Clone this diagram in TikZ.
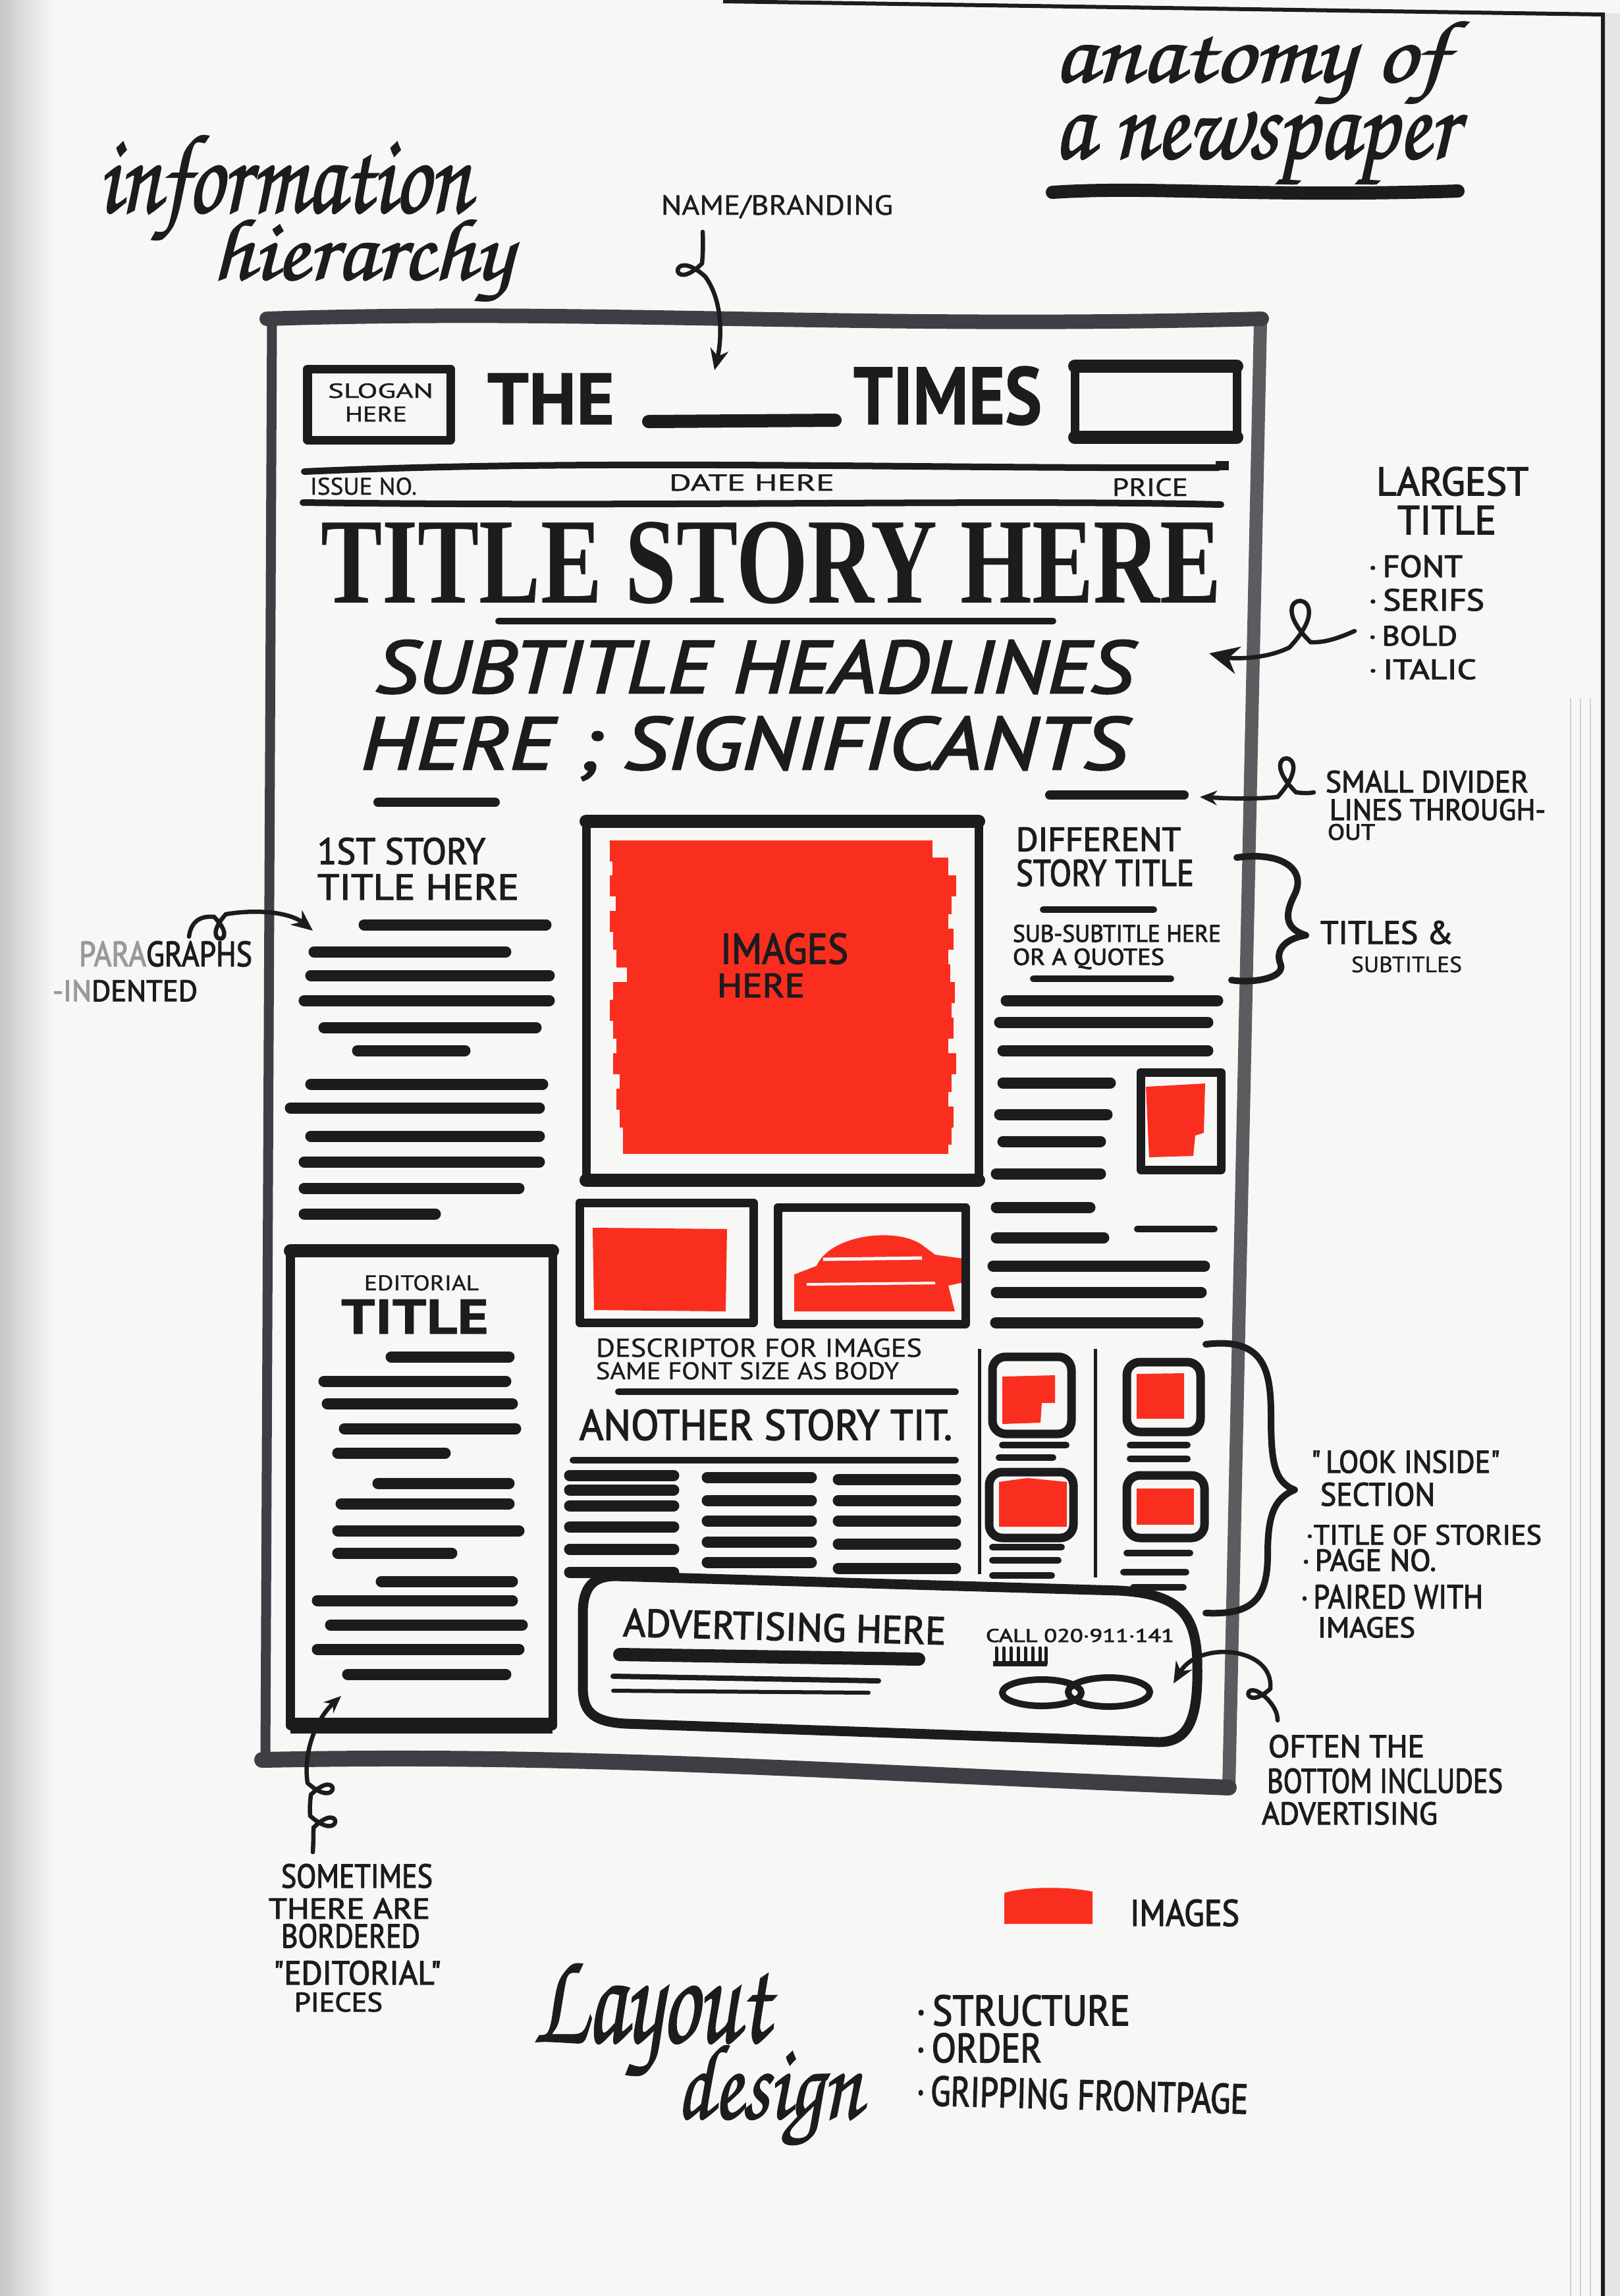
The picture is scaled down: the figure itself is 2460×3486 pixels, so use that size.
\documentclass[tikz,border=0pt]{standalone}
\usepackage{fontspec}
\usetikzlibrary{arrows.meta}
\newfontfamily\hand[FakeBold=2.5]{PT Sans}
\newfontfamily\handthin[FakeBold=1]{PT Sans}
\newfontfamily\titlefont{Liberation Serif}
\newfontfamily\chorus[FakeBold=1.5]{TeX Gyre Chorus}
\definecolor{ink}{RGB}{28,27,30}
\definecolor{framegray}{RGB}{62,63,68}
\definecolor{marker}{RGB}{250,46,30}
\definecolor{paper}{RGB}{247,247,246}
\newlength\pxu \setlength\pxu{0.01cm}
\newcommand\fitt[3]{\resizebox{#1\pxu}{#2\pxu}{#3}}
\newcommand\nodepth[1]{\raisebox{0pt}[\height][0pt]{#1}}
\begin{document}
\begin{tikzpicture}[x=0.01cm,y=-0.01cm,
  lbl/.style={inner sep=0pt, outer sep=0pt, anchor=base west, text=ink, font=\hand},
  barst/.style={draw=ink, line width=0.17cm, line cap=round},
  thinbar/.style={draw=ink, line width=0.1cm, line cap=round},
  boxst/.style={draw=ink, line width=0.13cm, line join=round},
  heavy/.style={draw=ink, line width=0.2cm, line cap=round},
  curly/.style={draw=ink, line width=0.065cm, line cap=round},
  bracest/.style={draw=ink, line width=0.1cm, line cap=round, line join=round},
  redstroke/.style={draw=marker, line width=0.32cm},
  tipbig/.style={-{Stealth[length=0.45cm,width=0.42cm]}},
  tipmid/.style={-{Stealth[length=0.32cm,width=0.28cm]}},
  tipsmall/.style={-{Stealth[length=0.26cm,width=0.22cm]}}]
\useasboundingbox (0,0) rectangle (2460,3486);
% ---------- paper ----------
\fill[paper] (0,0) rectangle (2460,3486);
\shade[left color=black!22, right color=paper] (0,0) rectangle (80,3486);
\fill[black!10] (2436,20) rectangle (2460,3486);
\foreach \xx in {2385,2400,2415}{\draw[black!18, line width=0.02cm] (\xx,1060) -- (\xx,3486);}
\draw[ink, line width=0.06cm] (1098,2) -- (2434,22) -- (2434,3486);

% ---------- script titles ----------
\node[lbl] (info) at (149,322) {\chorus\nodepth{\fitt{565}{116}{information}}};
\node[lbl] (hier) at (322,424) {\chorus\nodepth{\fitt{455}{90}{hierarchy}}};
\node[lbl] (anat) at (1600,124) {\chorus\nodepth{\fitt{597}{91}{anatomy of}}};
\node[lbl] (news) at (1600,240) {\chorus\nodepth{\fitt{612}{70}{a newspaper}}};
\draw[draw=ink, line width=0.2cm, line cap=round] (1598,292) .. controls (1750,282) and (1900,300) .. (2214,290);
\node[lbl] (lay) at (810,3100) {\chorus\nodepth{\fitt{358}{118}{Layout}}};
\node[lbl] (des) at (1027,3216) {\chorus\nodepth{\fitt{281}{110}{design}}};

% ---------- newspaper frame ----------
\draw[draw=framegray, line width=0.15cm] (413,486) -- (403,2672);
\draw[draw=framegray!85, line width=0.2cm] (1914,488) -- (1866,2716);
\draw[draw=framegray, line width=0.22cm, line cap=round] (405,484) .. controls (900,468) and (1300,500) .. (1916,484);
\draw[draw=framegray, line width=0.24cm, line cap=round] (398,2672) .. controls (900,2662) and (1250,2690) .. (1866,2714);

% ---------- masthead ----------
\draw[boxst] (467,560) rectangle (684,668);
\node[lbl, font=\handthin] (slogan1) at (498,604) {\fitt{160}{22}{SLOGAN}};
\node[lbl, font=\handthin] (slogan2) at (524,640) {\fitt{94}{23}{HERE}};
\node[lbl, font=\handthin] (the) at (740,644) {\bfseries\fitt{193}{77}{THE}};
\draw[heavy] (985,640) -- (1268,638);
\node[lbl, font=\handthin] (times) at (1296,644) {\bfseries\fitt{286}{88}{TIMES}};
\draw[boxst] (1632,556) rectangle (1878,664);
\draw[heavy] (1632,556) -- (1878,556);
\draw[heavy] (1632,664) -- (1878,664);
\draw[draw=ink, line width=0.1cm, line cap=round] (462,716) .. controls (900,696) and (1400,712) .. (1850,710);
\draw[draw=ink, line width=0.14cm] (1846,707) -- (1866,707);
\node[lbl, font=\handthin] (issue) at (471,751) {\fitt{162}{26}{ISSUE NO.}};
\node[lbl, font=\handthin] (date) at (1016,745) {\fitt{251}{25}{DATE HERE}};
\node[lbl, font=\handthin] (price) at (1689,753) {\fitt{115}{27}{PRICE}};
\draw[draw=ink, line width=0.1cm, line cap=round] (460,763) .. controls (1000,770) and (1500,758) .. (1854,766);
\node[lbl] (title) at (487,915) {\titlefont\bfseries\fitt{1368}{123}{TITLE STORY HERE}};
\draw[thinbar] (757,943) -- (1599,943);
\node[lbl] (sub1) at (570,1052) {\itshape\fitt{1150}{80}{SUBTITLE HEADLINES}};
\node[lbl] (sub2) at (548,1168) {\itshape\fitt{1163}{80}{HERE ; SIGNIFICANTS}};
\draw[draw=ink, line width=0.14cm, line cap=round] (574,1218) -- (752,1218);
\draw[draw=ink, line width=0.14cm, line cap=round] (1594,1207) -- (1798,1207);

% ---------- left column ----------
\node[lbl] (st1) at (482,1312) {\fitt{255}{40}{1ST STORY}};
\node[lbl] (st2) at (482,1366) {\fitt{306}{39}{TITLE HERE}};
\foreach \a/\b/\c in {553/829/1404,477/768/1445,472/834/1481,462/834/1519,492/814/1560,543/706/1595,472/824/1646,441/819/1682,472/819/1725,462/819/1764,462/788/1804,462/661/1843}
  {\draw[barst] (\a,\c) -- (\b,\c);}

% ---------- main image ----------
\foreach \a/\b/\c in {926/1416/1292,930/1440/1318,926/1452/1345,935/1445/1372,926/1440/1399,931/1448/1426,936/1440/1453,952/1443/1480,931/1450/1507,926/1445/1534,931/1448/1561,936/1440/1588,931/1452/1615,941/1445/1642,936/1440/1669,941/1448/1696,946/1445/1722,946/1440/1736}
  {\draw[redstroke] (\a,\c) -- (\b,\c);}
\draw[boxst] (890,1247) rectangle (1486,1792);
\draw[heavy] (890,1247) -- (1486,1247);
\draw[heavy] (890,1792) -- (1486,1792);
\node[lbl] (img1) at (1094,1463) {\fitt{194}{46}{IMAGES}};
\node[lbl] (img2) at (1089,1514) {\fitt{133}{36}{HERE}};

% ---------- right column ----------
\node[lbl] (diff1) at (1543,1292) {\fitt{250}{36}{DIFFERENT}};
\node[lbl] (diff2) at (1543,1345) {\fitt{270}{40}{STORY TITLE}};
\draw[thinbar] (1584,1381) -- (1752,1381);
\node[lbl] (ss1) at (1538,1430) {\fitt{316}{26}{SUB-SUBTITLE HERE}};
\node[lbl] (ss2) at (1538,1465) {\fitt{230}{25}{OR A QUOTES}};
\draw[thinbar] (1569,1486) -- (1778,1486);
\foreach \a/\b/\c in {1528/1849/1519,1518/1834/1552,1523/1834/1595,1523/1686/1644,1518/1681/1692,1523/1671/1733,1513/1671/1782,1513/1655/1833,1513/1676/1879,1508/1829/1922,1513/1824/1962,1512/1819/2008}
  {\draw[barst] (\a,\c) -- (\b,\c);}
\draw[draw=ink, line width=0.1cm, line cap=round] (1727,1866) -- (1844,1866);
\fill[marker] (1740,1650) -- (1830,1645) -- (1828,1720) -- (1815,1724) -- (1812,1755) -- (1745,1757) -- cycle;
\draw[boxst] (1732,1628) rectangle (1854,1776);

% ---------- small images ----------
\fill[marker] (900,1864) -- (1104,1866) -- (1102,1991) -- (902,1989) -- cycle;
\draw[boxst] (880,1826) rectangle (1144,2008);
\fill[marker] (1206,1991) -- (1206,1935) -- (1240,1922) .. controls (1260,1875) and (1360,1862) .. (1400,1890) -- (1420,1905) -- (1470,1912) -- (1472,1945) -- (1440,1952) -- (1450,1991) -- cycle;
\draw[draw=white, line width=0.05cm] (1250,1912) -- (1400,1910);
\draw[draw=white, line width=0.04cm] (1225,1950) -- (1420,1948);
\draw[boxst] (1181,1833) rectangle (1466,2010);
\node[lbl, font=\handthin] (desc1) at (905,2060) {\fitt{495}{28}{DESCRIPTOR FOR IMAGES}};
\node[lbl, font=\handthin] (desc2) at (905,2094) {\fitt{460}{26}{SAME FONT SIZE AS BODY}};
\draw[thinbar] (939,2113) -- (1451,2113);
\node[lbl] (another) at (880,2186) {\fitt{566}{46}{ANOTHER STORY TIT.}};
\draw[thinbar] (870,2217) -- (1451,2217);
\foreach \a/\b/\c in {865/1023/2240,865/1023/2262,865/1023/2286,865/1023/2318,865/1023/2352,865/1023/2387,
                      1074/1232/2243,1074/1232/2278,1074/1232/2309,1074/1232/2341,1074/1232/2372,
                      1273/1451/2246,1273/1451/2278,1273/1451/2309,1273/1451/2344,1273/1451/2381}
  {\draw[barst] (\a,\c) -- (\b,\c);}

% ---------- look inside ----------
\draw[draw=ink, line width=0.05cm] (1487,2048) -- (1487,2390);
\draw[draw=ink, line width=0.05cm] (1663,2048) -- (1663,2395);
\fill[marker] (1522,2090) -- (1602,2088) -- (1602,2130) -- (1582,2130) -- (1580,2160) -- (1522,2162) -- cycle;
\fill[marker] (1726,2086) -- (1798,2085) -- (1798,2154) -- (1726,2154) -- cycle;
\fill[marker] (1517,2250) -- (1560,2244) -- (1620,2250) -- (1620,2318) -- (1517,2318) -- cycle;
\fill[marker] (1726,2260) -- (1813,2260) -- (1813,2315) -- (1726,2315) -- cycle;
\draw[boxst, rounded corners=0.2cm] (1507,2060) rectangle (1627,2177);
\draw[boxst, rounded corners=0.2cm] (1711,2068) rectangle (1823,2174);
\draw[boxst, rounded corners=0.2cm] (1502,2235) rectangle (1630,2335);
\draw[boxst, rounded corners=0.2cm] (1711,2240) rectangle (1829,2335);
\foreach \a/\b/\c in {1522/1619/2194,1517/1599/2213,1716/1803/2194,1716/1803/2215,1507/1612/2349,1507/1607/2369,1507/1597/2392,1711/1807/2358,1706/1801/2387,1721/1797/2410}
  {\draw[thinbar] (\a,\c) -- (\b,\c);}

% ---------- editorial ----------
\draw[boxst] (441,1899) rectangle (839,2620);
\draw[heavy] (441,1899) -- (839,1899);
\draw[draw=ink, line width=0.24cm] (441,2620) -- (839,2620);
\node[lbl, font=\handthin] (ed1) at (553,1959) {\fitt{174}{23}{EDITORIAL}};
\node[lbl, font=\handthin] (ed2) at (518,2025) {\bfseries\fitt{224}{52}{TITLE}};
\foreach \a/\b/\c in {594/773/2060,492/768/2097,497/778/2131,523/783/2169,513/676/2206,574/773/2252,518/773/2283,513/788/2324,513/686/2358,579/778/2401,482/778/2430,502/793/2467,482/788/2504,528/768/2542}
  {\draw[barst] (\a,\c) -- (\b,\c);}

% ---------- advertising ----------
\draw[draw=ink, line width=0.15cm, line join=round] (935,2393) -- (1700,2415) .. controls (1790,2420) and (1815,2450) .. (1818,2520) .. controls (1820,2600) and (1810,2645) .. (1760,2645) -- (950,2617) .. controls (895,2614) and (885,2595) .. (885,2560) -- (885,2450) .. controls (885,2410) and (900,2393) .. (935,2393) -- cycle;
\node[lbl, rotate=-1.5] (adv) at (946,2484) {\fitt{490}{42}{ADVERTISING HERE}};
\draw[draw=ink, line width=0.2cm, line cap=round] (941,2512) -- (1395,2519);
\draw[draw=ink, line width=0.08cm, line cap=round] (931,2545) -- (1334,2552);
\draw[draw=ink, line width=0.06cm, line cap=round] (931,2567) -- (1319,2570);
\node[lbl] (call) at (1497,2493) {\fitt{286}{20}{CALL 020·911·141}};
\draw[draw=ink, line width=0.08cm] (1508,2526) -- (1590,2526);
\foreach \xx in {1513,1524,1535,1546,1557,1568,1579,1588}
  {\draw[draw=ink, line width=0.05cm, line cap=round] (\xx,2502) -- (\xx,2526);}
\draw[draw=ink, line width=0.1cm] (1582,2570) ellipse [x radius=60, y radius=20];
\draw[draw=ink, line width=0.1cm] (1684,2569) ellipse [x radius=62, y radius=22];

% ---------- right annotations ----------
\node[lbl] (lt1) at (2090,752) {\fitt{231}{43}{LARGEST}};
\node[lbl] (lt2) at (2122,811) {\fitt{150}{43}{TITLE}};
\node[lbl] (font) at (2078,876) {\fitt{143}{33}{·\,FONT}};
\node[lbl] (serifs) at (2078,927) {\fitt{176}{33}{·\,SERIFS}};
\node[lbl] (bold) at (2078,980) {\fitt{135}{30}{·\,BOLD}};
\node[lbl] (italic) at (2078,1031) {\fitt{164}{30}{·\,ITALIC}};
\coordinate (t-sub) at (1836,992);
\draw[curly, tipbig] ([shift={(-21,-22)}]bold.base west) .. controls (2030,970) and (2010,976) .. (1990,975) .. controls (1905,890) and (2045,890) .. (1958,983) .. controls (1920,1002) and (1870,1000) .. (t-sub);

\node[lbl] (sd1) at (2013,1203) {\fitt{308}{33}{SMALL DIVIDER}};
\node[lbl] (sd2) at (2019,1245) {\fitt{328}{32}{LINES THROUGH-}};
\node[lbl] (sd3) at (2016,1275) {\fitt{72}{24}{OUT}};
\coordinate (t-div) at (1822,1210);
\draw[curly, tipsmall] ([shift={(-18,0)}]sd1.base west) .. controls (1985,1205) and (1978,1204) .. (1968,1203) .. controls (1898,1133) and (2010,1133) .. (1940,1210) .. controls (1900,1214) and (1860,1212) .. (t-div);

\draw[bracest] (1878,1302) .. controls (1950,1292) and (1985,1322) .. (1965,1360) .. controls (1950,1390) and (1952,1410) .. (1983,1420) .. controls (1948,1426) and (1936,1445) .. (1945,1465) .. controls (1950,1486) and (1900,1493) .. (1870,1488);
\node[lbl] (tt1) at (2005,1433) {\fitt{202}{35}{TITLES \&}};
\node[lbl, font=\handthin] (tt2) at (2052,1476) {\fitt{168}{24}{SUBTITLES}};

\draw[bracest] (1831,2041) .. controls (1920,2030) and (1930,2080) .. (1930,2150) .. controls (1930,2220) and (1935,2250) .. (1966,2262) .. controls (1935,2275) and (1925,2300) .. (1925,2360) .. controls (1925,2430) and (1900,2452) .. (1831,2449);
\node[lbl] (look1) at (1991,2236) {\fitt{287}{34}{"\,LOOK INSIDE"}};
\node[lbl] (look2) at (2005,2286) {\fitt{174}{35}{SECTION}};
\node[lbl] (look3) at (1983,2345) {\fitt{358}{30}{·TITLE OF STORIES}};
\node[lbl] (look4) at (1977,2385) {\fitt{204}{33}{·\,PAGE NO.}};
\node[lbl] (look5) at (1975,2442) {\fitt{277}{36}{·\,PAIRED WITH}};
\node[lbl] (look6) at (2001,2486) {\fitt{148}{31}{IMAGES}};

\node[lbl] (often1) at (1926,2668) {\fitt{237}{34}{OFTEN THE}};
\node[lbl] (often2) at (1924,2722) {\fitt{358}{37}{BOTTOM INCLUDES}};
\node[lbl] (often3) at (1916,2770) {\fitt{267}{34}{ADVERTISING}};
\coordinate (t-ad) at (1782,2556);
\draw[curly, tipmid] ([shift={(14,-56)}]often1.base west) .. controls (1940,2598) and (1932,2588) .. (1925,2580) .. controls (1885,2540) and (1885,2604) .. (1929,2564) .. controls (1935,2500) and (1820,2490) .. (t-ad);

% ---------- top annotation ----------
\node[lbl, font=\handthin] (brand) at (1004,326) {\fitt{352}{30}{NAME/BRANDING}};
\coordinate (t-brand) at (1085,562);
\draw[curly, tipmid] ([shift={(63,26)}]brand.base west) .. controls (1068,375) and (1067,390) .. (1066,400) .. controls (1016,450) and (1016,370) .. (1071,420) .. controls (1100,460) and (1095,520) .. (t-brand);

% ---------- left annotations ----------
\node[lbl] (par1) at (120,1467) {\fitt{263}{38}{{\color{ink!45}PARA}GRAPHS}};
\node[lbl] (par2) at (80,1520) {\fitt{220}{32}{{\color{ink!45}-IN}DENTED}};
\coordinate (t-par) at (475,1413);
\draw[curly, tipmid] ([shift={(167,-45)}]par1.base west) .. controls (290,1400) and (303,1390) .. (325,1392) .. controls (370,1437) and (298,1437) .. (343,1388) .. controls (390,1380) and (440,1385) .. (t-par);

\node[lbl] (some1) at (427,2866) {\fitt{230}{36}{SOMETIMES}};
\node[lbl] (some2) at (408,2913) {\fitt{245}{31}{THERE ARE}};
\node[lbl] (some3) at (427,2957) {\fitt{211}{36}{BORDERED}};
\node[lbl] (some4) at (415,3013) {\fitt{255}{36}{"EDITORIAL"}};
\node[lbl] (some5) at (447,3054) {\fitt{134}{29}{PIECES}};
\coordinate (t-edit) at (518,2575);
\draw[curly, tipsmall] ([shift={(48,-54)}]some1.base west) .. controls (476,2795) and (476,2785) .. (476,2775) .. controls (521,2730) and (521,2802) .. (471,2757) .. controls (470,2745) and (471,2735) .. (472,2725) .. controls (517,2680) and (517,2752) .. (467,2707) .. controls (460,2660) and (480,2610) .. (t-edit);

% ---------- legend & bottom ----------
\fill[marker] (1525,2874) .. controls (1560,2864) and (1620,2864) .. (1659,2872) -- (1659,2921) -- (1525,2921) -- cycle;
\node[lbl] (legend) at (1716,2924) {\fitt{166}{40}{IMAGES}};
\node[lbl] (lay1) at (1391,3075) {\fitt{325}{46}{·\,STRUCTURE}};
\node[lbl] (lay2) at (1391,3131) {\fitt{191}{44}{·\,ORDER}};
\node[lbl, rotate=-1.5] (lay3) at (1391,3196) {\fitt{504}{45}{·\,GRIPPING FRONTPAGE}};
\end{tikzpicture}
\end{document}
